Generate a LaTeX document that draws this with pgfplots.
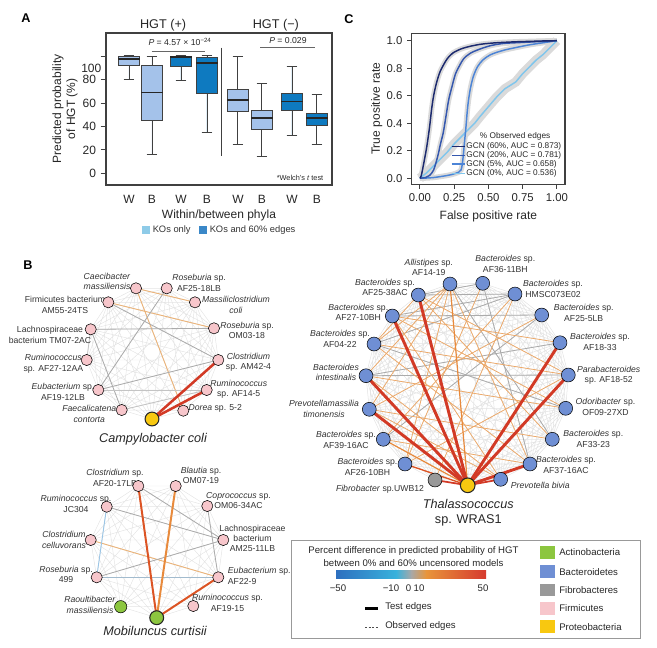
\documentclass[border=0pt]{standalone}
\usepackage{fontspec}
\setmainfont{Liberation Sans}
\usepackage{pgfplots}
\pgfplotsset{compat=1.18}
\usepgfplotslibrary{statistics}

\definecolor{boxlight}{HTML}{A4C2EA}
\definecolor{boxdark}{HTML}{0E7AC0}
\definecolor{legl}{HTML}{8ECBE8}
\definecolor{legd}{HTML}{3A88C8}
\definecolor{firm}{HTML}{F7C6CB}
\definecolor{bact}{HTML}{6F8FD4}
\definecolor{actino}{HTML}{8CC63F}
\definecolor{fibro}{HTML}{999999}
\definecolor{proteo}{HTML}{F8C810}
\definecolor{ered}{HTML}{D23A26}
\definecolor{eredor}{HTML}{DC5424}
\definecolor{eor}{HTML}{E88A3C}
\definecolor{eorl}{HTML}{EEA866}
\definecolor{etan}{HTML}{EBB47A}
\definecolor{egray}{HTML}{ABABAB}
\definecolor{efaint}{HTML}{E4E4E4}
\definecolor{eblue}{HTML}{9CC6E6}
\definecolor{rocA}{HTML}{1C2A6E}
\definecolor{rocB}{HTML}{3457AE}
\definecolor{rocC}{HTML}{4C84D6}
\definecolor{rocD}{HTML}{80C6EC}
\definecolor{band}{HTML}{DADADA}
\definecolor{cbA}{HTML}{2E6FBF}
\definecolor{cbB}{HTML}{38B2DC}
\definecolor{cbC}{HTML}{A8A8A8}
\definecolor{cbD}{HTML}{E8953A}
\definecolor{cbE}{HTML}{D63A2E}

\newcommand\fs[2]{\fontsize{#1}{#2}\selectfont}
\newcommand\nd[2]{\expandafter\gdef\csname nd-#1\endcsname{#2}}
\newcommand\edge[3]{\edef\etmp{\noexpand\addplot[#1,forget plot] coordinates {(\csname nd-#2\endcsname) (\csname nd-#3\endcsname)};}\etmp}
\newcommand\allpairs[2]{%
 \gdef\cglist{}%
 \foreach \na [count=\i] in {#2}{%
  \foreach \nb [count=\j] in {#2}{%
   \ifnum\j>\i\relax\xdef\cglist{\cglist (\csname nd-\na\endcsname) (\csname nd-\nb\endcsname) (nan,nan)}\fi}}%
 \edef\cgtmp{\noexpand\addplot[#1,unbounded coords=jump,forget plot] coordinates {\cglist};}\cgtmp}
\newcommand\drawnodes[2]{%
 \gdef\ndlist{}%
 \foreach \na in {#2}{\xdef\ndlist{\ndlist (\csname nd-\na\endcsname)}}%
 \edef\ntmp{\noexpand\addplot[#1,forget plot] coordinates {\ndlist};}\ntmp}

% network 1 (pixel coordinates)
\nd{C1}{136,288.3}\nd{C2}{166.7,288.3}\nd{C3}{195,302.3}\nd{C4}{214,328.3}
\nd{C5}{218.3,360}\nd{C6}{206.7,390}\nd{C7}{183.3,410.7}\nd{CC}{152,419}
\nd{C8}{121.7,410}\nd{C9}{98.3,390}\nd{C10}{86.7,360}\nd{C11}{90.7,329.3}\nd{C12}{108.3,302.3}
% network 2
\nd{M1}{138.3,486}\nd{M2}{175.7,486}\nd{M3}{207.3,506}\nd{M4}{223.3,540}
\nd{M5}{218.3,577.3}\nd{M6}{193.3,606}\nd{MM}{156.7,617.7}\nd{M7}{120.7,606.7}
\nd{M8}{96.7,577.3}\nd{M9}{90.7,540}\nd{M10}{106.7,506.7}
% network 3
\nd{T1}{450,284}\nd{T2}{482.7,283.3}\nd{T3}{515,294}\nd{T4}{541.7,315}
\nd{T5}{560,342.7}\nd{T6}{568.3,375}\nd{T7}{565.7,408.3}\nd{T8}{552.3,439.3}
\nd{T9}{530,464}\nd{T10}{500.7,479.3}\nd{TT}{467.7,485.3}\nd{T11}{435,480}
\nd{T12}{405,464}\nd{T13}{383.3,439.3}\nd{T14}{369.3,409.3}\nd{T15}{366,375.7}
\nd{T16}{374,344}\nd{T17}{392.3,316}\nd{T18}{418.3,295}

\tikzset{lab/.style={font=\fs{6.5}{7.8}, align=center, text=black!80, inner sep=0pt}}

\begin{document}
\begin{tikzpicture}
\useasboundingbox (0,0) rectangle (492.75pt,-486pt);
%================ overlay (panel B, legends, letters) ================
\begin{axis}[at={(0pt,0pt)}, anchor=north west, scale only axis,
  width=492.75pt, height=486pt, xmin=0, xmax=657, ymin=0, ymax=648,
  y dir=reverse, hide axis, clip=false]
% panel letters
\node[font=\bfseries\fs{9.5}{10}] at (axis cs:26,18) {A};
\node[font=\bfseries\fs{9.5}{10}] at (axis cs:28,265) {B};
\node[font=\bfseries\fs{9.5}{10}] at (axis cs:349,19) {C};
% legend of panel A
\fill[legl] (axis cs:141.7,225.5) rectangle (axis cs:150,234);
\node[anchor=west, font=\fs{7}{8}, text=black!80, inner sep=0pt] at (axis cs:152.5,230) {KOs only};
\fill[legd] (axis cs:199.3,225.5) rectangle (axis cs:207.3,234);
\node[anchor=west, font=\fs{7}{8}, text=black!80, inner sep=0pt] at (axis cs:209.5,230) {KOs and 60\% edges};

%---- network 1
\allpairs{efaint,line width=0.35pt}{C1,C2,C3,C4,C5,C6,C7,CC,C8,C9,C10,C11,C12}
\edge{etan,line width=0.7pt}{C1}{C3}
\edge{etan,line width=0.7pt}{C1}{C7}
\edge{etan,line width=0.7pt}{C12}{C4}
\edge{egray,line width=0.6pt}{C12}{C5}
\edge{egray,line width=0.6pt}{C11}{C4}
\edge{egray,line width=0.6pt}{C11}{C8}
\edge{egray,line width=0.6pt}{C2}{C9}
\edge{egray,line width=0.6pt}{C9}{C5}
\edge{egray!70,line width=0.6pt}{C8}{C6}
\edge{egray!70,line width=0.6pt}{C11}{C10}
\edge{egray!70,line width=0.6pt}{C9}{C6}
\edge{ered,line width=1.9pt}{CC}{C5}
\edge{ered,line width=1.9pt}{CC}{C6}
\drawnodes{only marks, mark=*, mark size=4.2pt, mark options={fill=firm, draw=none}}{C1,C2,C3,C4,C5,C6,C7,C8,C9,C10,C11,C12}
\drawnodes{only marks, mark=*, mark size=5.2pt, mark options={fill=proteo, draw=black!85, line width=0.8pt}}{CC}
\node[lab] at (axis cs:107,281.5) {\textit{Caecibacter}\\\textit{massiliensis}};
\node[lab] at (axis cs:199,283) {\textit{Roseburia} sp.\\AF25-18LB};
\node[lab] at (axis cs:236,305) {\textit{Massiliclostridium}\\\textit{coli}};
\node[lab] at (axis cs:247,330.5) {\textit{Roseburia} sp.\\OM03-18};
\node[lab] at (axis cs:248.5,362) {\textit{Clostridium}\\sp. AM42-4};
\node[lab] at (axis cs:238.7,389) {\textit{Ruminococcus}\\sp. AF14-5};
\node[lab] at (axis cs:215.3,408.5) {\textit{Dorea} sp. 5-2};
\node[lab] at (axis cs:89.3,414) {\textit{Faecalicatena}\\\textit{contorta}};
\node[lab] at (axis cs:63,392) {\textit{Eubacterium} sp.\\AF19-12LB};
\node[lab] at (axis cs:53.3,363.7) {\textit{Ruminococcus}\\sp. AF27-12AA};
\node[lab] at (axis cs:50,334.7) {Lachnospiraceae\\bacterium TM07-2AC};
\node[lab] at (axis cs:65,305) {Firmicutes bacterium\\AM55-24TS};
\node[font=\itshape\fs{9.5}{11}, text=black!85] at (axis cs:153,439) {Campylobacter coli};

%---- network 2
\allpairs{efaint,line width=0.35pt}{M1,M2,M3,M4,M5,M6,MM,M7,M8,M9,M10}
\edge{etan,line width=0.7pt}{M9}{M5}
\edge{eblue,line width=0.7pt}{M10}{M8}
\edge{egray,line width=0.6pt}{M10}{M4}
\edge{egray,line width=0.6pt}{M1}{M4}
\edge{egray,line width=0.6pt}{M8}{M4}
\edge{eblue!60!egray,line width=0.6pt}{M8}{M5}
\edge{egray,line width=0.6pt}{M3}{M5}
\edge{eredor,line width=1.5pt}{MM}{M1}
\edge{eor,line width=1.5pt}{MM}{M2}
\edge{eredor,line width=1.5pt}{MM}{M5}
\drawnodes{only marks, mark=*, mark size=4.2pt, mark options={fill=firm, draw=none}}{M1,M2,M3,M4,M5,M6,M8,M9,M10}
\drawnodes{only marks, mark=*, mark size=4.6pt, mark options={fill=actino, draw=none}}{M7}
\drawnodes{only marks, mark=*, mark size=5.2pt, mark options={fill=actino, draw=black!85, line width=0.8pt}}{MM}
\node[lab] at (axis cs:115,478) {\textit{Clostridium} sp.\\AF20-17LB};
\node[lab] at (axis cs:201,475.5) {\textit{Blautia} sp.\\OM07-19};
\node[lab] at (axis cs:238.5,500.5) {\textit{Coprococcus} sp.\\OM06-34AC};
\node[lab] at (axis cs:252.5,538.3) {Lachnospiraceae\\bacterium\\AM25-11LB};
\node[lab, align=left, anchor=west] at (axis cs:227.7,575.7) {\textit{Eubacterium} sp.\\AF22-9};
\node[lab] at (axis cs:227.5,602.7) {\textit{Ruminococcus} sp.\\AF19-15};
\node[lab] at (axis cs:90,604.7) {\textit{Raoultibacter}\\\textit{massiliensis}};
\node[lab] at (axis cs:66,574.3) {\textit{Roseburia} sp.\\499};
\node[lab] at (axis cs:64,540) {\textit{Clostridium}\\\textit{celluvorans}};
\node[lab] at (axis cs:76,504) {\textit{Ruminococcus} sp.\\JC304};
\node[font=\itshape\fs{9.5}{11}, text=black!85] at (axis cs:155,631) {Mobiluncus curtisii};

%---- network 3
\allpairs{efaint,line width=0.4pt}{T1,T2,T3,T4,T5,T6,T7,T8,T9,T10,TT,T11,T12,T13,T14,T15,T16,T17,T18}
\edge{egray,line width=0.6pt}{T18}{T3}
\edge{egray,line width=0.6pt}{T17}{T4}
\edge{egray,line width=0.6pt}{T16}{T7}
\edge{egray,line width=0.6pt}{T2}{T9}
\edge{egray,line width=0.6pt}{T1}{T8}
\edge{egray,line width=0.6pt}{T4}{T13}
\edge{egray,line width=0.6pt}{T5}{T15}
\edge{egray,line width=0.6pt}{T17}{T3}
\edge{egray,line width=0.6pt}{T16}{T3}
\edge{egray,line width=0.6pt}{T18}{T2}
\edge{egray,line width=0.6pt}{T15}{T6}
\edge{eorl,line width=0.55pt}{T1}{T12}
\edge{eorl,line width=0.55pt}{T1}{T15}
\edge{eorl,line width=0.55pt}{T1}{T16}
\edge{eorl,line width=0.55pt}{T1}{T14}
\edge{eorl,line width=0.55pt}{T18}{T6}
\edge{eorl,line width=0.55pt}{T17}{T5}
\edge{eorl,line width=0.55pt}{T16}{T6}
\edge{eorl,line width=0.55pt}{T15}{T7}
\edge{eorl,line width=0.55pt}{T14}{T8}
\edge{eorl,line width=0.55pt}{T13}{T9}
\edge{eorl,line width=0.55pt}{T16}{T9}
\edge{eorl,line width=0.55pt}{T17}{T10}
\edge{eorl,line width=0.55pt}{T3}{T11}
\edge{eorl,line width=0.55pt}{T3}{T13}
\edge{eorl,line width=0.55pt}{T2}{T12}
\edge{eorl,line width=0.55pt}{T4}{T14}
\edge{eorl,line width=0.55pt}{T12}{T6}
\edge{eorl,line width=0.55pt}{T18}{T8}
\edge{eorl,line width=0.55pt}{T15}{T10}
\edge{eorl,line width=0.55pt}{T17}{T7}
\edge{eorl,line width=0.55pt}{T1}{T9}
\edge{eorl,line width=0.55pt}{T14}{T10}
\edge{eorl,line width=0.55pt}{T18}{T16}
\edge{eor,line width=0.9pt}{TT}{T1}
\edge{eor,line width=0.9pt}{TT}{T13}
\edge{eredor,line width=1.0pt}{TT}{T12}
\edge{ered,line width=1.3pt}{TT}{T11}
\edge{ered,line width=1.3pt}{TT}{T10}
\edge{ered,line width=2.2pt}{TT}{T18}
\edge{ered,line width=2.2pt}{TT}{T17}
\edge{ered,line width=2.2pt}{TT}{T15}
\edge{ered,line width=2.2pt}{TT}{T14}
\edge{ered,line width=2.2pt}{TT}{T5}
\edge{ered,line width=2.2pt}{TT}{T6}
\edge{ered,line width=2.2pt}{TT}{T9}
\drawnodes{only marks, mark=*, mark size=5.2pt, mark options={fill=bact, draw=none}}{T1,T2,T3,T4,T5,T6,T7,T8,T9,T10,T12,T13,T14,T15,T16,T17,T18}
\drawnodes{only marks, mark=*, mark size=5.2pt, mark options={fill=fibro, draw=none}}{T11}
\drawnodes{only marks, mark=*, mark size=5.5pt, mark options={fill=proteo, draw=black!85, line width=0.8pt}}{TT}
\node[lab] at (axis cs:428.8,267.5) {\textit{Allistipes} sp.\\AF14-19};
\node[lab] at (axis cs:505.3,264) {\textit{Bacteroides} sp.\\AF36-11BH};
\node[lab] at (axis cs:553,289) {\textit{Bacteroides} sp.\\HMSC073E02};
\node[lab] at (axis cs:583.7,312.8) {\textit{Bacteroides} sp.\\AF25-5LB};
\node[lab] at (axis cs:600,341.7) {\textit{Bacteroides} sp.\\AF18-33};
\node[lab] at (axis cs:608.7,375.3) {\textit{Parabacteroides}\\sp. AF18-52};
\node[lab] at (axis cs:605.5,407) {\textit{Odoribacter} sp.\\OF09-27XD};
\node[lab] at (axis cs:593.3,438.8) {\textit{Bacteroides} sp.\\AF33-23};
\node[lab] at (axis cs:566,465) {\textit{Bacteroides} sp.\\AF37-16AC};
\node[lab] at (axis cs:540.3,485.7) {\textit{Prevotella bivia}};
\node[lab] at (axis cs:380,489) {\textit{Fibrobacter} sp.UWB12};
\node[lab] at (axis cs:367.5,467) {\textit{Bacteroides} sp.\\AF26-10BH};
\node[lab] at (axis cs:346,440) {\textit{Bacteroides} sp.\\AF39-16AC};
\node[lab] at (axis cs:324,409) {\textit{Prevotellamassilia}\\\textit{timonensis}};
\node[lab] at (axis cs:336,372.5) {\textit{Bacteroides}\\\textit{intestinalis}};
\node[lab] at (axis cs:340,338.8) {\textit{Bacteroides} sp.\\AF04-22};
\node[lab] at (axis cs:358.3,312.5) {\textit{Bacteroides} sp.\\AF27-10BH};
\node[lab] at (axis cs:385,287.5) {\textit{Bacteroides} sp.\\AF25-38AC};
\node[font=\fs{9.5}{11.3}, text=black!85, align=center] at (axis cs:468.3,512.5) {\textit{Thalassococcus}\\sp. WRAS1};

%---- legend box
\draw[black!40, line width=0.7pt] (axis cs:291,540) rectangle (axis cs:640,638);
\node[font=\fs{7.2}{10}, text=black!85, align=center] at (axis cs:413.5,556.7) {Percent difference in predicted probability of HGT\\between 0\% and 60\% uncensored models};
\shade[left color=cbA, right color=cbB] (axis cs:336,570.5) rectangle (axis cs:396.5,578.5);
\shade[left color=cbB, right color=cbC] (axis cs:396,570.5) rectangle (axis cs:411.5,578.5);
\shade[left color=cbC, right color=cbD] (axis cs:411,570.5) rectangle (axis cs:426.5,578.5);
\shade[left color=cbD, right color=cbE] (axis cs:426,570.5) rectangle (axis cs:486,578.5);
\node[font=\fs{7.2}{8}, text=black!85] at (axis cs:338,588.5) {−50};
\node[font=\fs{7.2}{8}, text=black!85] at (axis cs:391,588.5) {−10};
\node[font=\fs{7.2}{8}, text=black!85] at (axis cs:408.5,588.5) {0};
\node[font=\fs{7.2}{8}, text=black!85] at (axis cs:419,588.5) {10};
\node[font=\fs{7.2}{8}, text=black!85] at (axis cs:483,588.5) {50};
\draw[black, line width=2pt] (axis cs:365,608.3) -- (axis cs:378.3,608.3);
\node[anchor=west, font=\fs{7.2}{8}, text=black!85, inner sep=0pt] at (axis cs:385,607.5) {Test edges};
\draw[black!70, line width=0.6pt, dash pattern=on 1.5pt off 1.2pt] (axis cs:365,627.3) -- (axis cs:378.3,627.3);
\node[anchor=west, font=\fs{7.2}{8}, text=black!85, inner sep=0pt] at (axis cs:385,626.5) {Observed edges};
\fill[actino] (axis cs:540,546) rectangle (axis cs:555,558.6);
\fill[bact] (axis cs:540,565.4) rectangle (axis cs:555,578);
\fill[fibro] (axis cs:540,583.7) rectangle (axis cs:555,596.3);
\fill[firm] (axis cs:540,602) rectangle (axis cs:555,614.6);
\fill[proteo] (axis cs:540,620.4) rectangle (axis cs:555,633);
\node[anchor=west, font=\fs{7.2}{8}, text=black!85, inner sep=0pt] at (axis cs:559,552.3) {Actinobacteria};
\node[anchor=west, font=\fs{7.2}{8}, text=black!85, inner sep=0pt] at (axis cs:559,571.7) {Bacteroidetes};
\node[anchor=west, font=\fs{7.2}{8}, text=black!85, inner sep=0pt] at (axis cs:559,590) {Fibrobacteres};
\node[anchor=west, font=\fs{7.2}{8}, text=black!85, inner sep=0pt] at (axis cs:559,608.3) {Firmicutes};
\node[anchor=west, font=\fs{7.2}{8}, text=black!85, inner sep=0pt] at (axis cs:559,626.7) {Proteobacteria};
\end{axis}

%================ panel A ================
\begin{axis}[at={(79.5pt,-138.75pt)}, anchor=south west, scale only axis,
  width=169.5pt, height=114pt,
  xmin=0.144, xmax=8.56, ymin=-10, ymax=120,
  axis line style={black!75, line width=0.9pt},
  xtick pos=bottom, ytick pos=left,
  xtick={1,1.856,2.936,3.904,5.058,5.95,7.07,8.0},
  xticklabels={W,B,W,B,W,B,W,B},
  x tick style={draw=none},
  ytick={0,20,40,60,80,100},
  yticklabels={0,20,40,60,80,{}},
  extra y ticks={90}, extra y tick labels={100},
  extra y tick style={major tick length=0pt, ytick pos=left},
  y tick style={black!75, line width=0.8pt},
  tick align=outside, major tick length=4pt,
  ticklabel style={font=\fs{9}{10}, text=black!85},
  /pgf/number format/assume math mode=true,
  xlabel={Within/between phyla},
  ylabel={Predicted probability\\of HGT (\%)},
  xlabel style={font=\fs{9}{10}, text=black!85, yshift=2pt},
  ylabel style={font=\fs{9}{10.5}, text=black!85, align=center, at={(axis description cs:-0.181,0.5)}, anchor=center},
  boxplot/draw direction=y,
  boxplot/every median/.style={line width=1.3pt, draw=black!85},
  clip=false]
\addplot[boxplot prepared={draw position=1, lower whisker=80, lower quartile=92, median=98, upper quartile=100, upper whisker=100.6, box extend=0.8, whisker extend=0.4}, draw=black!75, fill=boxlight, line width=0.7pt, solid] coordinates {};
\addplot[boxplot prepared={draw position=1.856, lower whisker=15.7, lower quartile=45, median=69, upper quartile=92.5, upper whisker=100, box extend=0.8, whisker extend=0.4}, draw=black!75, fill=boxlight, line width=0.7pt, solid] coordinates {};
\addplot[boxplot prepared={draw position=2.936, lower whisker=79.4, lower quartile=91.4, median=99.3, upper quartile=100.2, upper whisker=100.6, box extend=0.8, whisker extend=0.4}, draw=black!75, fill=boxdark, line width=0.7pt, solid] coordinates {};
\addplot[boxplot prepared={draw position=3.904, lower whisker=35, lower quartile=68.6, median=94.3, upper quartile=99, upper whisker=100.4, box extend=0.8, whisker extend=0.4}, draw=black!75, fill=boxdark, line width=0.7pt, solid] coordinates {};
\addplot[boxplot prepared={draw position=5.058, lower whisker=25, lower quartile=53, median=63, upper quartile=72, upper whisker=100, box extend=0.8, whisker extend=0.4}, draw=black!75, fill=boxlight, line width=0.7pt, solid] coordinates {};
\addplot[boxplot prepared={draw position=5.95, lower whisker=14.3, lower quartile=37.7, median=47, upper quartile=53.4, upper whisker=76.6, box extend=0.8, whisker extend=0.4}, draw=black!75, fill=boxlight, line width=0.7pt, solid] coordinates {};
\addplot[boxplot prepared={draw position=7.07, lower whisker=32, lower quartile=53.7, median=61.4, upper quartile=68.6, upper whisker=91.4, box extend=0.8, whisker extend=0.4}, draw=black!75, fill=boxdark, line width=0.7pt, solid] coordinates {};
\addplot[boxplot prepared={draw position=8.0, lower whisker=25, lower quartile=40.6, median=47, upper quartile=51.4, upper whisker=67, box extend=0.8, whisker extend=0.4}, draw=black!75, fill=boxdark, line width=0.7pt, solid] coordinates {};
% separator and brackets
\addplot[black!75, line width=0.9pt, forget plot] coordinates {(4.45,107.4) (4.45,15)};
\addplot[black!60, line width=0.6pt, forget plot] coordinates {(1.84,104) (3.83,104)};
\addplot[black!60, line width=0.6pt, forget plot] coordinates {(5.88,107.8) (7.92,107.8)};
\node[font=\fs{6.5}{7}, text=black!85] at (axis cs:2.9,112.4) {\textit{P} = 4.57 × 10\textsuperscript{−24}};
\node[font=\fs{6.5}{7}, text=black!85] at (axis cs:6.92,113.4) {\textit{P} = 0.029};
\node[font=\fs{5.5}{6}, text=black!85] at (axis cs:7.37,-4) {*Welch's \textit{t} test};
\node[font=\fs{9.5}{10}, text=black!85] at (axis cs:2.27,127) {HGT (+)};
\node[font=\fs{9.5}{10}, text=black!85] at (axis cs:6.47,127) {HGT (−)};
\end{axis}

%================ panel C ================
\begin{axis}[at={(308.8pt,-138.2pt)}, anchor=south west, scale only axis,
  width=115pt, height=113.25pt,
  xmin=-0.06, xmax=1.06, ymin=-0.044, ymax=1.054,
  xtick pos=bottom, ytick pos=left,
  xtick={0,0.25,0.5,0.75,1}, xticklabels={0.00,0.25,0.50,0.75,1.00},
  ytick={0,0.2,0.4,0.6,0.8,1}, yticklabels={0.0,0.2,0.4,0.6,0.8,1.0},
  tick align=outside, major tick length=3.5pt,
  tick style={black!75, line width=0.8pt},
  axis line style={black!75, line width=0.9pt},
  ticklabel style={font=\fs{8.5}{9}, text=black!85},
  /pgf/number format/assume math mode=true,
  xlabel={False positive rate}, ylabel={True positive rate},
  label style={font=\fs{9}{10}, text=black!85},
  ylabel style={at={(axis description cs:-0.228,0.5)}, anchor=center},
  clip=false]
% confidence bands
\addplot[band, line width=4pt, smooth, forget plot] coordinates {(0,0) (0.01,0.02) (0.03,0.12) (0.05,0.23) (0.07,0.37) (0.085,0.5) (0.10,0.60) (0.12,0.69) (0.145,0.77) (0.17,0.82) (0.2,0.87) (0.24,0.91) (0.3,0.94) (0.37,0.96) (0.45,0.975) (0.56,0.985) (0.7,0.992) (0.8,0.995) (0.9,0.998) (1,1)};
\addplot[band, line width=4pt, smooth, forget plot] coordinates {(0,0) (0.04,0.005) (0.07,0.02) (0.1,0.06) (0.13,0.16) (0.15,0.25) (0.17,0.33) (0.19,0.45) (0.21,0.57) (0.235,0.67) (0.26,0.76) (0.29,0.82) (0.32,0.87) (0.37,0.91) (0.44,0.94) (0.52,0.965) (0.61,0.98) (0.7,0.985) (0.8,0.99) (0.9,0.995) (1,1)};
\addplot[band, line width=4pt, smooth, forget plot] coordinates {(0,0) (0.02,0) (0.1,0.005) (0.2,0.02) (0.26,0.035) (0.3,0.06) (0.315,0.15) (0.325,0.26) (0.335,0.36) (0.345,0.48) (0.355,0.57) (0.37,0.66) (0.39,0.74) (0.42,0.81) (0.46,0.86) (0.52,0.9) (0.61,0.93) (0.7,0.95) (0.8,0.97) (0.9,0.985) (1,1)};
\addplot[band, line width=7pt, forget plot] coordinates {(0,0) (0.05,0.04) (0.1,0.09) (0.15,0.14) (0.2,0.19) (0.25,0.25) (0.3,0.3) (0.35,0.35) (0.4,0.4) (0.44,0.45) (0.5,0.52) (0.56,0.59) (0.62,0.65) (0.7,0.7) (0.75,0.76) (0.8,0.81) (0.85,0.86) (0.9,0.9) (0.95,0.95) (1,1)};
% curves
\addplot[rocD, line width=1.1pt, forget plot] coordinates {(0,0) (0.05,0.04) (0.1,0.09) (0.15,0.14) (0.2,0.19) (0.25,0.25) (0.3,0.3) (0.35,0.35) (0.4,0.4) (0.44,0.45) (0.5,0.52) (0.56,0.59) (0.62,0.65) (0.7,0.7) (0.75,0.76) (0.8,0.81) (0.85,0.86) (0.9,0.9) (0.95,0.95) (1,1)};
\addplot[rocC, line width=1.1pt, smooth, forget plot] coordinates {(0,0) (0.02,0) (0.1,0.005) (0.2,0.02) (0.26,0.035) (0.3,0.06) (0.315,0.15) (0.325,0.26) (0.335,0.36) (0.345,0.48) (0.355,0.57) (0.37,0.66) (0.39,0.74) (0.42,0.81) (0.46,0.86) (0.52,0.9) (0.61,0.93) (0.7,0.95) (0.8,0.97) (0.9,0.985) (1,1)};
\addplot[rocB, line width=1.1pt, smooth, forget plot] coordinates {(0,0) (0.04,0.005) (0.07,0.02) (0.1,0.06) (0.13,0.16) (0.15,0.25) (0.17,0.33) (0.19,0.45) (0.21,0.57) (0.235,0.67) (0.26,0.76) (0.29,0.82) (0.32,0.87) (0.37,0.91) (0.44,0.94) (0.52,0.965) (0.61,0.98) (0.7,0.985) (0.8,0.99) (0.9,0.995) (1,1)};
\addplot[rocA, line width=1.1pt, smooth, forget plot] coordinates {(0,0) (0.01,0.02) (0.03,0.12) (0.05,0.23) (0.07,0.37) (0.085,0.5) (0.10,0.60) (0.12,0.69) (0.145,0.77) (0.17,0.82) (0.2,0.87) (0.24,0.91) (0.3,0.94) (0.37,0.96) (0.45,0.975) (0.56,0.985) (0.7,0.992) (0.8,0.995) (0.9,0.998) (1,1)};
% legend
\node[font=\fs{6.2}{7}, text=black!85] at (axis cs:0.695,0.307) {\% Observed edges};
\addplot[rocA, line width=1.1pt, forget plot] coordinates {(0.232,0.229) (0.329,0.229)};
\addplot[rocB, line width=1.1pt, forget plot] coordinates {(0.232,0.167) (0.329,0.167)};
\addplot[rocC, line width=1.1pt, forget plot] coordinates {(0.232,0.102) (0.329,0.102)};
\addplot[rocD, line width=1.1pt, forget plot] coordinates {(0.232,0.036) (0.329,0.036)};
\node[anchor=west, font=\fs{6.2}{7}, text=black!85, inner sep=0pt] at (axis cs:0.337,0.229) {GCN (60\%, AUC = 0.873)};
\node[anchor=west, font=\fs{6.2}{7}, text=black!85, inner sep=0pt] at (axis cs:0.337,0.167) {GCN (20\%, AUC = 0.781)};
\node[anchor=west, font=\fs{6.2}{7}, text=black!85, inner sep=0pt] at (axis cs:0.337,0.102) {GCN (5\%, AUC = 0.658)};
\node[anchor=west, font=\fs{6.2}{7}, text=black!85, inner sep=0pt] at (axis cs:0.337,0.036) {GCN (0\%, AUC = 0.536)};
\end{axis}
\end{tikzpicture}
\end{document}
